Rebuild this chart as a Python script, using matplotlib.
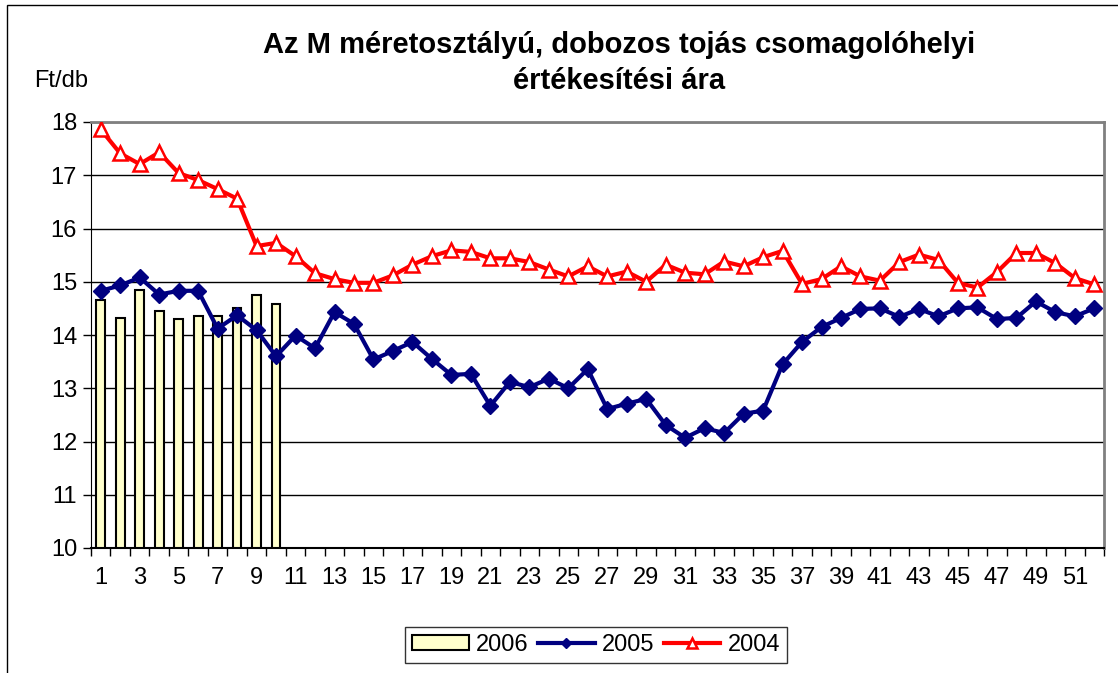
import numpy as np
import matplotlib.pyplot as plt
from matplotlib.patches import Rectangle

plt.rcParams['font.family'] = ['Liberation Sans', 'DejaVu Sans']

'''Adatok'''
weeks = np.arange(1, 53)

y2006 = [14.66, 14.32, 14.85, 14.45, 14.30, 14.35, 14.35, 14.51, 14.75, 14.59]

y2005 = [14.83, 14.93, 15.08, 14.76, 14.83, 14.83, 14.12, 14.37, 14.09, 13.60,
         13.99, 13.75, 14.43, 14.21, 13.54, 13.70, 13.87, 13.55, 13.25, 13.27,
         12.67, 13.12, 13.02, 13.18, 13.00, 13.36, 12.61, 12.71, 12.80, 12.31,
         12.07, 12.25, 12.16, 12.52, 12.58, 13.45, 13.87, 14.15, 14.32, 14.49,
         14.50, 14.34, 14.49, 14.35, 14.50, 14.52, 14.30, 14.32, 14.63, 14.43,
         14.35, 14.50]

y2004 = [17.86, 17.41, 17.21, 17.43, 17.04, 16.91, 16.74, 16.56, 15.67, 15.73,
         15.48, 15.16, 15.05, 14.98, 14.98, 15.12, 15.32, 15.48, 15.59, 15.56,
         15.44, 15.44, 15.37, 15.23, 15.10, 15.29, 15.10, 15.19, 15.00, 15.32,
         15.17, 15.14, 15.38, 15.29, 15.46, 15.58, 14.96, 15.05, 15.29, 15.10,
         15.02, 15.37, 15.51, 15.41, 14.98, 14.89, 15.18, 15.54, 15.54, 15.35,
         15.07, 14.95]

tick_labels = [str(i) for i in range(1, 53, 2)]

fig = plt.figure(figsize=(11.18, 6.73), dpi=100)
ax = fig.add_axes([91 / 1118, 1 - 548 / 673, (1104 - 91) / 1118, (548 - 122) / 673])

# keret a diagram körül
fig.patches.append(Rectangle((7 / 1118, -0.01), 1.02, 1 - 5 / 673 + 0.01,
                             transform=fig.transFigure, fill=False,
                             edgecolor='black', linewidth=1))

b06 = ax.bar(weeks[:len(y2006)], y2006, width=0.45, bottom=0, color='#FFFFCC',
             edgecolor='black', linewidth=1.5, label='2006', zorder=2)
l05, = ax.plot(weeks, y2005, color='#000080', linewidth=3, marker='D', markersize=8,
               label='2005', zorder=3)
l04, = ax.plot(weeks, y2004, color='#FF0000', linewidth=3, marker='^', markersize=10,
               markerfacecolor='white', markeredgecolor='#FF0000', markeredgewidth=1.8,
               label='2004', zorder=4)

ax.set_xlim(0.5, 52.5)
ax.set_ylim(10, 18)
ax.set_yticks(range(10, 19))
ax.set_xticks(range(1, 53, 2))
ax.set_xticklabels(tick_labels)
ax.set_xticks(np.arange(0.5, 53, 1), minor=True)
ax.tick_params(axis='x', which='major', length=0, labelsize=17, pad=14)
ax.tick_params(axis='x', which='minor', length=6, direction='out', width=1)
ax.tick_params(axis='y', length=6, width=1, labelsize=17, pad=4)
ax.grid(axis='y', color='black', linewidth=1, zorder=0)
ax.set_axisbelow(True)

ax.spines['left'].set_color('black')
ax.spines['bottom'].set_color('black')
ax.spines['bottom'].set_linewidth(1.5)
ax.spines['right'].set_color('gray')
ax.spines['right'].set_linewidth(2)
ax.spines['top'].set_color('gray')
ax.spines['top'].set_linewidth(2)

fig.text(619 / 1118, 1 - 63 / 673,
         'Az M méretosztályú, dobozos tojás csomagolóhelyi\nértékesítési ára',
         ha='center', va='center', fontsize=21, fontweight='bold', linespacing=1.35)
fig.text(34 / 1118, 1 - 81 / 673, 'Ft/db', ha='left', va='center', fontsize=17)

leg = fig.legend([b06, l05, l04], ['2006', '2005', '2004'], loc='center',
                 bbox_to_anchor=(596 / 1118, 1 - 645 / 673), ncol=3,
                 fontsize=17, frameon=True, fancybox=False, edgecolor='black',
                 handlelength=2.4, handleheight=0.6, handletextpad=0.3,
                 columnspacing=0.4, borderpad=0.3, markerscale=0.7)
leg.get_frame().set_linewidth(1)

fig.savefig('out.png', dpi=100)
